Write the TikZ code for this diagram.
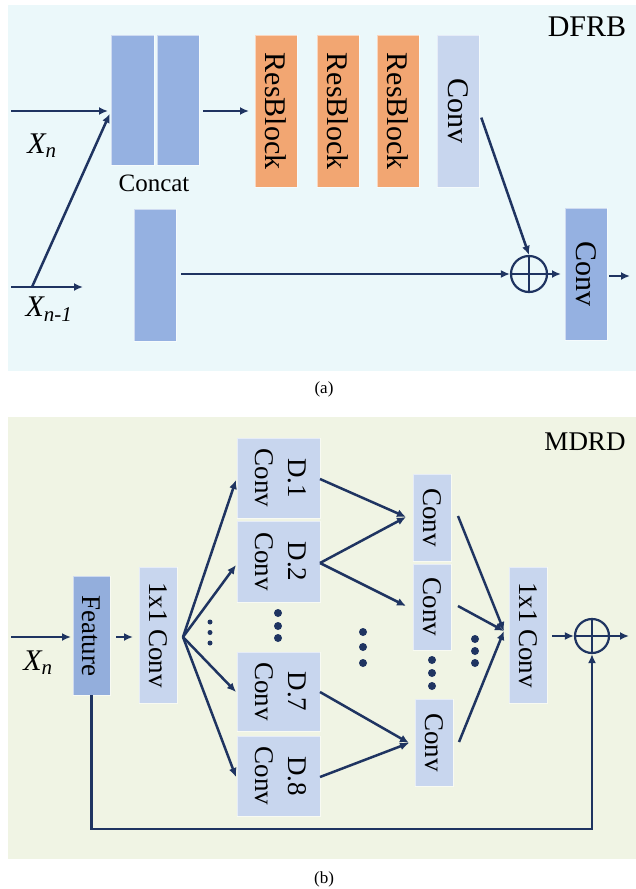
\documentclass[tikz,border=0pt]{standalone}
\usepackage{fontspec}
\setmainfont{Liberation Serif}
\usepackage{graphicx}
\usetikzlibrary{arrows.meta}

\definecolor{bgA}{HTML}{EBF8FA}
\definecolor{bgB}{HTML}{F0F4E4}
\definecolor{orangeblk}{HTML}{F2A672}
\definecolor{paleblue}{HTML}{C8D6EE}
\definecolor{midblue}{HTML}{95B1E1}
\definecolor{featblue}{HTML}{93AEDC}
\definecolor{navy}{HTML}{1F3461}

\newcommand{\vtext}[1]{\rotatebox{-90}{#1}}
\newcommand{\vtwo}[2]{\rotatebox{-90}{\begin{tabular}{@{}c@{}}#1\\#2\end{tabular}}}

\begin{document}
\begin{tikzpicture}[x=1pt,y=-1pt,
  blk/.style={draw=white, draw opacity=0.55, line width=0.9pt, inner sep=0pt, outer sep=0pt},
  bigfont/.style={font=\fontsize{30}{34}\selectfont},
  midfont/.style={font=\fontsize{27}{33}\selectfont},
  flow/.style={draw=navy, line width=2.5pt, -{Latex[length=9pt,width=8pt]}},
  sumnode/.style={circle, draw=navy, line width=2.2pt, minimum size=#1, inner sep=0pt,
    path picture={\draw[navy, line width=2.2pt]
      (path picture bounding box.north) -- (path picture bounding box.south)
      (path picture bounding box.west) -- (path picture bounding box.east);}},
  dot/.style={circle, fill=navy, inner sep=0pt, minimum size=#1},
]
\useasboundingbox (0,0) rectangle (636,889);

% ---------------- panel (a): DFRB ----------------
\fill[bgA] (8,5) rectangle (636,371);
\node[bigfont, anchor=center] (titleA) at (587,27) {DFRB};

\node[blk, fill=midblue, minimum width=43pt, minimum height=130pt] (catL) at (132.5,100) {};
\node[blk, fill=midblue, minimum width=42pt, minimum height=130pt] (catR) at (178,100) {};
\node[font=\fontsize{25}{28}\selectfont] (catlbl) at (154,183) {Concat};
\node[blk, fill=midblue, minimum width=42pt, minimum height=132pt] (skipA) at (155,275) {};

\node[blk, bigfont, fill=orangeblk, minimum width=42pt, minimum height=152pt] (rb1) at (276,111) {\vtext{ResBlock}};
\node[blk, bigfont, fill=orangeblk, minimum width=42pt, minimum height=152pt] (rb2) at (338,111) {\vtext{ResBlock}};
\node[blk, bigfont, fill=orangeblk, minimum width=42pt, minimum height=152pt] (rb3) at (398,111) {\vtext{ResBlock}};
\node[blk, bigfont, fill=paleblue, minimum width=42pt, minimum height=152pt] (convA) at (458,111) {\vtext{Conv}};
\node[blk, bigfont, fill=midblue, minimum width=42pt, minimum height=132pt] (convB) at (586,274) {\vtext{Conv}};
\node[sumnode=36pt] (sumA) at (529,274) {};

% inputs
\coordinate (xnA) at (11,111);
\coordinate (xpA) at (11,287);
\coordinate (xpEnd) at (83,287);
\coordinate (split) at (32,287);
\node[font=\fontsize{30}{34}\selectfont\itshape] (xnlblA) at (42,146) {X\textsubscript{n}};
\node[font=\fontsize{30}{34}\selectfont\itshape] (xplbl) at (49,309) {X\textsubscript{n-1}};

\draw[flow, shorten >=3pt] (xnA) -- (catL.west |- xnA);
\draw[flow] (xpA) -- (xpEnd);
\draw[flow, shorten >=3pt] (split) -- (catL.west |- xnA);
\draw[flow, shorten <=4pt, shorten >=6pt] (catR.east |- xnA) -- (rb1.west |- xnA);
\draw[flow, shorten <=5pt] (skipA.east |- sumA) -- (sumA.west);
\draw[flow, shorten <=7pt] (convA.east) -- (sumA.north);
\draw[flow, shorten >=4pt] (sumA.east) -- (convB.west);
\coordinate (outA) at (630,276);
\draw[flow, shorten <=2pt] (convB.east |- outA) -- (outA);

\node[font=\fontsize{17}{20}\selectfont] (capA) at (324,389) {(a)};

% ---------------- panel (b): MDRD ----------------
\fill[bgB] (8,417) rectangle (636,859);
\node[font=\fontsize{27}{30}\selectfont] (titleB) at (585,442) {MDRD};

\node[blk, midfont, fill=featblue, minimum width=37pt, minimum height=119pt] (feat) at (91.5,635.5) {\vtext{Feature}};
\node[blk, midfont, fill=paleblue, minimum width=38pt, minimum height=136pt] (pw1) at (158,635) {\vtext{1x1 Conv}};

\node[blk, midfont, fill=paleblue, minimum width=83pt, minimum height=80pt] (d1) at (278.5,478) {\vtwo{D.1}{Conv}};
\node[blk, midfont, fill=paleblue, minimum width=83pt, minimum height=81pt] (d2) at (278.5,561.5) {\vtwo{D.2}{Conv}};
\node[blk, midfont, fill=paleblue, minimum width=83pt, minimum height=79pt] (d7) at (278.5,691.5) {\vtwo{D.7}{Conv}};
\node[blk, midfont, fill=paleblue, minimum width=83pt, minimum height=80pt] (d8) at (278.5,776) {\vtwo{D.8}{Conv}};

\node[blk, midfont, fill=paleblue, minimum width=38pt, minimum height=87pt] (c1) at (432,517.5) {\vtext{Conv}};
\node[blk, midfont, fill=paleblue, minimum width=38pt, minimum height=86pt] (c2) at (432,607) {\vtext{Conv}};
\node[blk, midfont, fill=paleblue, minimum width=38pt, minimum height=87pt] (c3) at (434,742.5) {\vtext{Conv}};

\node[blk, midfont, fill=paleblue, minimum width=38pt, minimum height=136pt] (pw2) at (528,635) {\vtext{1x1 Conv}};
\node[sumnode=34pt] (sumB) at (592,636) {};

% input and entry
\coordinate (xnB) at (11,637);
\node[font=\fontsize{30}{34}\selectfont\itshape] (xnlblB) at (38,663) {X\textsubscript{n}};
\draw[flow, shorten >=2pt] (xnB) -- (feat.west |- xnB);
\draw[flow, shorten <=6pt, shorten >=6pt] (feat.east |- xnB) -- (pw1.west |- xnB);

% fan out to the dilated convolutions
\coordinate (fan) at (183,637);
\draw[flow] (fan) -- ([xshift=-1pt]d1.west |- 0,480);
\draw[flow] (fan) -- ([xshift=-1pt]d2.west |- 0,565);
\draw[flow] (fan) -- ([xshift=-1pt]d7.west |- 0,692);
\draw[flow] (fan) -- ([xshift=-1pt]d8.west |- 0,777);

% dilated convs to the fusion convs
\coordinate (c1in) at (406,517);
\coordinate (c2in) at (406,606);
\coordinate (c3in) at (409,743);
\draw[flow] (d1.east |- 0,479) -- (c1in);
\draw[flow] (d2.east |- 0,563) -- (c1in);
\draw[flow] (d2.east |- 0,563) -- (c2in);
\draw[flow] (d7.east |- 0,692) -- (c3in);
\draw[flow] (d8.east |- 0,777) -- (c3in);

% fusion convs to the 1x1 conv
\coordinate (pw2in) at (504,631);
\draw[flow] ([xshift=7pt]c1.east |- 0,516) -- (pw2in);
\draw[flow] ([xshift=7pt]c2.east |- 0,606) -- (pw2in);
\draw[flow] ([xshift=6pt]c3.east |- 0,742) -- (pw2in);

% output and residual
\draw[flow, shorten <=5pt] (pw2.east |- sumB) -- (sumB.west);
\coordinate (outB) at (629,636);
\draw[flow] (sumB.east) -- (outB);
\draw[flow] (feat.south) -- (feat.south |- 0,829) -- (sumB.south |- 0,829) -- (sumB.south);

% ellipsis dots
\foreach \yy in {622,632.5,643} \node[dot=5pt] at (210,\yy) {};
\foreach \yy in {613,626,638} \node[dot=8pt] at (278,\yy) {};
\foreach \yy in {632,647,663} \node[dot=8pt] at (363,\yy) {};
\foreach \yy in {660,673,686} \node[dot=8pt] at (432,\yy) {};
\foreach \yy in {639,651,663} \node[dot=8pt] at (475,\yy) {};

\node[font=\fontsize{17}{20}\selectfont] (capB) at (324,879) {(b)};
\end{tikzpicture}
\end{document}
